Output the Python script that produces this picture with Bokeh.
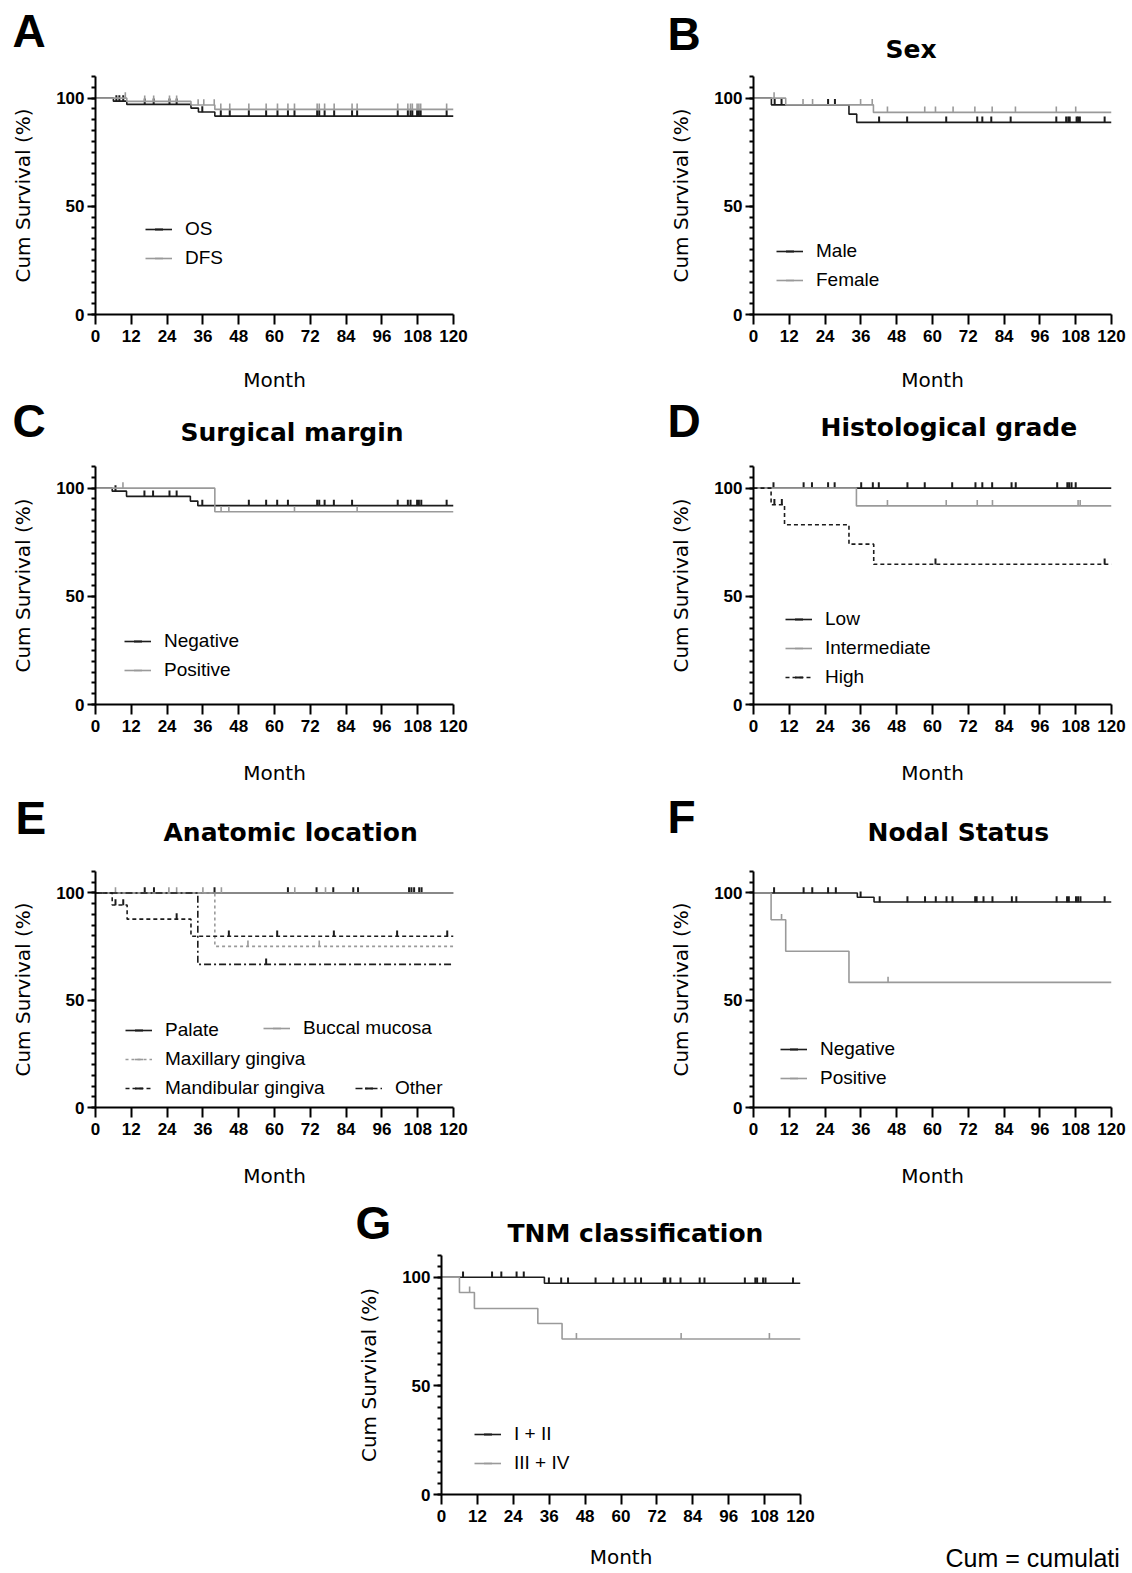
import numpy as np
from bokeh.plotting import figure
from bokeh.models import Range1d, FixedTicker, Legend, LegendItem, Label, Spacer
from bokeh.layouts import row, column
from bokeh.embed import file_html
from bokeh.resources import INLINE

# ---------------- data ----------------
MONTH_TICKS = [0, 12, 24, 36, 48, 60, 72, 84, 96, 108, 120]
Y_MAJOR = [0, 50, 100]
Y_MINOR = list(range(0, 111, 5))

# A: OS / DFS
a_os_t = [6, 10.5, 32, 34.5, 40]
a_os_s = [98.6, 97.1, 95.4, 93.6, 91.7]
a_os_c = [7, 8, 9.3, 16.5, 19.5, 24.8, 27.2, 35.8, 42, 45, 51.4, 57.2, 61, 64.5, 66.7, 74.3, 75,
          76.8, 80, 86, 87.7, 101.3, 104.7, 105.6, 106.2, 107.8, 108.4, 109, 117.7]
a_dfs_t = [10.5, 32, 40]
a_dfs_s = [98.5, 96.8, 94.8]
a_dfs_c = [10, 16.5, 19.5, 24.8, 27.2, 34.4, 36.3, 39.8, 42, 45, 51.4, 57.2, 61, 64.5, 66.7, 74.3,
           75, 76.8, 80, 86, 87.7, 101.3, 104.7, 105.6, 106.2, 107.8, 108.4, 109, 117.7]

# B: Sex
b_male_t = [6, 32, 34.6]
b_male_s = [96.9, 92.6, 88.8]
b_male_c = [7.1, 9.4, 25, 27.3, 42.1, 51.5, 64.6, 75, 76.7, 79.7, 86.2, 101.5, 104.8, 105.5, 106,
            108.3, 108.8, 109.4, 117.7]
b_fem_t = [10.8, 40.2]
b_fem_s = [96.9, 93.4]
b_fem_c = [6.9, 16.6, 19.8, 35.9, 39.8, 44.9, 57.4, 61, 66.9, 74.2, 80, 87.8, 101.5, 108]

# C: Surgical margin
c_neg_t = [5.6, 10.4, 31.8, 34.3]
c_neg_s = [98.6, 96.2, 94.0, 91.9]
c_neg_c = [6.7, 16.4, 19.3, 24.8, 27.2, 35.8, 51.4, 57.2, 60.9, 64.5, 74.3, 75, 76.8, 79.9, 86,
           101.3, 104.7, 105.6, 107.8, 108.4, 109.2, 117.7]
c_pos_t = [40]
c_pos_s = [89.1]
c_pos_c = [9.2, 42.1, 44.7, 66.7, 87.7]

# D: Histological grade
d_low_t = []
d_low_s = []
d_low_c = [6.7, 16.8, 19.6, 25, 27.2, 36.1, 40, 42, 51.6, 57.4, 66.6, 74.4, 76.7, 80, 86.5, 87.9,
           101.8, 105.2, 105.8, 106.6, 108]
d_int_t = [34.5]
d_int_s = [91.8]
d_int_c = [44.9, 64.6, 75, 80.1, 108.8, 109.5]
d_high_t = [5.9, 10.4, 32, 40.3]
d_high_s = [92.3, 83.1, 74.1, 64.8]
d_high_c = [7, 9.5, 61, 117.7]

# E: Anatomic location
e_pal_t = []
e_pal_s = []
e_pal_c = [16.5, 19.6, 39.9, 64.5, 74.1, 79.7, 86.4, 88, 105.1, 105.9, 106.8, 108.5, 109.3]
e_buc_t = []
e_buc_s = []
e_buc_c = [6.7, 24.6, 27.2, 36, 42.2, 66.8, 77.1]
e_max_t = [40]
e_max_s = [75.1]
e_max_c = [51.1, 75]
e_man_t = [5.6, 10.6, 32]
e_man_s = [94.4, 87.8, 79.8]
e_man_c = [6.7, 9.3, 27.2, 44.7, 60.9, 79.9, 101.1, 117.9]
e_oth_t = [34.3]
e_oth_s = [66.7]
e_oth_c = [57.2]

# F: Nodal status
f_neg_t = [34.8, 40.4]
f_neg_s = [98.0, 95.8]
f_neg_c = [6.9, 16.8, 19.7, 25, 27.6, 35.9, 42.3, 51.6, 57.5, 61.1, 64.7, 66.7, 74.3, 74.8, 77.1,
           80.1, 86.6, 88.1, 101.6, 105.1, 105.7, 108.1, 108.8, 109.6, 117.7]
f_pos_t = [5.9, 10.8, 32]
f_pos_s = [87.5, 72.8, 58.3]
f_pos_c = [9.4, 45.1]

# G: TNM classification
g_12_t = [34.4]
g_12_s = [97.2]
g_12_c = [7.2, 16.9, 20, 25.1, 27.5, 35.9, 40, 42.3, 51.5, 57.4, 61.2, 64.8, 66.7, 74.3, 74.8,
          76.5, 79.9, 86.3, 87.9, 101.4, 104.9, 105.5, 107.5, 108.3, 117.5]
g_34_t = [6, 11, 32.2, 40.3]
g_34_s = [93.0, 85.6, 78.7, 71.6]
g_34_c = [9.4, 45.1, 80.1, 109.6]

NOTE_TEXT = "Cum = cumulati"

# ---------------- style ----------------
BLACK = "#1c1c1c"
GRAY = "#9a9a9a"
CENSOR_LIFT = 1.3  # small lift so censor ticks sit on top of the curve
PAGE_W = 1132


def steps(times, survs):
    xs = [0.0] + list(times) + [120.0]
    ys = [100.0] + list(survs) + [survs[-1] if survs else 100.0]
    return xs, ys


def surv_at(t, times, survs):
    s = 100.0
    for ti, si in zip(times, survs):
        if ti <= t:
            s = si
    return s


def blank(w, h):
    p = figure(width=w, height=h, x_range=Range1d(0, 1), y_range=Range1d(0, 1),
               x_axis_type=None, y_axis_type=None, title=None,
               output_backend="svg", toolbar_location=None,
               min_border_left=0, min_border_right=0, min_border_top=0, min_border_bottom=0)
    p.outline_line_color = None
    p.background_fill_color = "white"
    p.border_fill_color = "white"
    return p


def header(h, letters, titles):
    p = blank(PAGE_W, h)
    for text, x, y in letters:
        p.add_layout(Label(x=x, y=y, x_units="screen", y_units="screen", text=text,
                           text_font="Liberation Sans", text_font_style="bold",
                           text_font_size="46px", text_baseline="middle", text_color="black"))
    for text, x, y in titles:
        p.add_layout(Label(x=x, y=y, x_units="screen", y_units="screen", text=text,
                           text_font="DejaVu Sans", text_font_style="bold",
                           text_font_size="25px", text_baseline="middle", text_color="black"))
    return p


def make_plot(geo, series, legends, xlab_standoff=26):
    w, h, bl, br, bt, bb = geo
    p = figure(width=w, height=h, x_range=Range1d(0, 120), y_range=Range1d(0, 110),
               output_backend="svg", toolbar_location=None,
               min_border_left=bl, min_border_right=br, min_border_top=bt, min_border_bottom=bb)
    p.outline_line_color = None
    p.grid.grid_line_color = None
    p.background_fill_color = "white"
    p.border_fill_color = "white"

    for ax in (p.xaxis[0], p.yaxis[0]):
        ax.axis_line_width = 2
        ax.axis_line_color = "black"
        ax.major_tick_line_width = 2
        ax.major_tick_line_color = "black"
        ax.major_tick_in = 0
        ax.major_label_text_font = "Liberation Sans"
        ax.major_label_text_font_style = "bold"
        ax.major_label_text_font_size = "17px"
        ax.major_label_text_color = "black"
        ax.axis_label_text_font = "DejaVu Sans"
        ax.axis_label_text_font_style = "normal"
        ax.axis_label_text_font_size = "20px"
        ax.axis_label_text_color = "black"

    xa = p.xaxis[0]
    xa.ticker = FixedTicker(ticks=MONTH_TICKS)
    xa.minor_tick_line_color = None
    xa.major_tick_out = 10
    xa.major_label_standoff = 5
    xa.axis_label = "Month"
    xa.axis_label_standoff = xlab_standoff

    ya = p.yaxis[0]
    ya.ticker = FixedTicker(ticks=Y_MAJOR, minor_ticks=Y_MINOR)
    ya.major_tick_out = 8
    ya.minor_tick_out = 4
    ya.minor_tick_in = 0
    ya.minor_tick_line_width = 2
    ya.minor_tick_line_color = "black"
    ya.major_label_standoff = 3
    ya.axis_label = "Cum Survival (%)"
    ya.axis_label_standoff = 18

    rends = {}
    for name, t, s, c, color, dash in series:
        xs, ys = steps(t, s)
        lr = p.step(xs, ys, mode="after", line_color=color, line_width=1.6, line_dash=dash)
        cy = [surv_at(ci, t, s) + CENSOR_LIFT for ci in c]
        cr = p.scatter(c, cy, marker="dash", angle=np.pi / 2, size=6, line_color=color,
                       line_width=2 if color == BLACK else 1.6)
        rends[name] = [lr, cr]

    for names, lx, ly in legends:
        leg = Legend(items=[LegendItem(label=n, renderers=rends[n]) for n in names],
                     location=(lx, ly), padding=0, margin=0, border_line_color=None,
                     background_fill_alpha=0, glyph_width=27, glyph_height=20,
                     label_height=20, spacing=7, label_standoff=13,
                     label_text_font="Liberation Sans", label_text_font_size="19px",
                     label_text_color="black")
        p.add_layout(leg)
    return p


LW, RW = 655, 477

# row 1  (page y 0 -> 394)
h1 = header(66, [("A", 12, 36), ("B", 667, 33)], [("Sex", 885, 17)])
pA = make_plot((LW, 328, 95, 202, 10, 80),
               [("OS", a_os_t, a_os_s, a_os_c, BLACK, "solid"),
                ("DFS", a_dfs_t, a_dfs_s, a_dfs_c, GRAY, "solid")],
               [(["OS", "DFS"], 50, 45)], xlab_standoff=23)
pB = make_plot((RW, 328, 98, 21, 10, 80),
               [("Male", b_male_t, b_male_s, b_male_c, BLACK, "solid"),
                ("Female", b_fem_t, b_fem_s, b_fem_c, GRAY, "solid")],
               [(["Male", "Female"], 23, 23)], xlab_standoff=23)

# row 2  (page y 394 -> 790)
h2 = header(60, [("C", 12, 34), ("D", 667, 34)],
            [("Surgical margin", 180, 22), ("Histological grade", 820, 27)])
pC = make_plot((LW, 336, 95, 202, 12, 86),
               [("Negative", c_neg_t, c_neg_s, c_neg_c, BLACK, "solid"),
                ("Positive", c_pos_t, c_pos_s, c_pos_c, GRAY, "solid")],
               [(["Negative", "Positive"], 29, 23)])
pD = make_plot((RW, 336, 98, 21, 12, 86),
               [("Low", d_low_t, d_low_s, d_low_c, BLACK, "solid"),
                ("Intermediate", d_int_t, d_int_s, d_int_c, GRAY, "solid"),
                ("High", d_high_t, d_high_s, d_high_c, BLACK, "4 3")],
               [(["Low", "Intermediate", "High"], 32, 16)])

# row 3  (page y 790 -> 1190)
h3 = header(66, [("E", 15, 39), ("F", 667, 40)],
            [("Anatomic location", 163, 24), ("Nodal Status", 867, 24)])
pE = make_plot((LW, 334, 95, 202, 15, 81),
               [("Palate", e_pal_t, e_pal_s, e_pal_c, BLACK, "solid"),
                ("Buccal mucosa", e_buc_t, e_buc_s, e_buc_c, GRAY, "solid"),
                ("Maxillary gingiva", e_max_t, e_max_s, e_max_c, GRAY, "3 3"),
                ("Mandibular gingiva", e_man_t, e_man_s, e_man_c, BLACK, "4 3"),
                ("Other", e_oth_t, e_oth_s, e_oth_c, BLACK, "7 3 2 3")],
               [(["Palate", "Maxillary gingiva", "Mandibular gingiva"], 30, 8),
                (["Buccal mucosa"], 168, 68),
                (["Other"], 260, 8)])
pF = make_plot((RW, 334, 98, 21, 15, 81),
               [("Negative", f_neg_t, f_neg_s, f_neg_c, BLACK, "solid"),
                ("Positive", f_pos_t, f_pos_s, f_pos_c, GRAY, "solid")],
               [(["Negative", "Positive"], 27, 18)])

# row 4  (page y 1190 -> 1573)
h4 = header(60, [("G", 355, 28)], [("TNM classification", 507, 17)])
pG = make_plot((520, 323, 101, 60, 5, 79),
               [("I + II", g_12_t, g_12_s, g_12_c, BLACK, "solid"),
                ("III + IV", g_34_t, g_34_s, g_34_c, GRAY, "solid")],
               [(["I + II", "III + IV"], 33, 20)], xlab_standoff=20)
note = blank(272, 323)
note.add_layout(Label(x=85, y=16, x_units="screen", y_units="screen", text=NOTE_TEXT,
                      text_font="Liberation Sans", text_font_size="25px",
                      text_baseline="alphabetic", text_color="black"))

layout = column(
    h1, row(pA, pB),
    h2, row(pC, pD),
    h3, row(pE, pF),
    h4, row(Spacer(width=340, height=323), pG, column(note)),
)

with open("out.html", "w") as f:
    f.write(file_html(layout, INLINE))
